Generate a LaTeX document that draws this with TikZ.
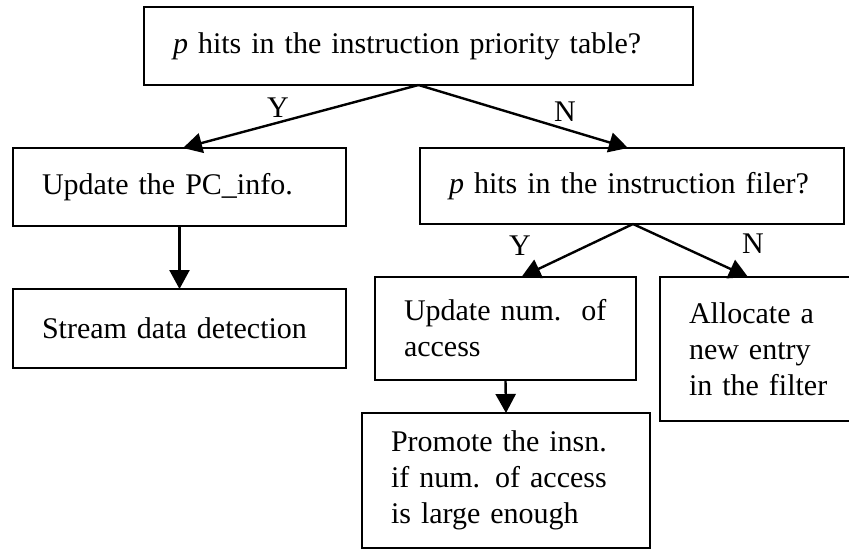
\documentclass[tikz,border=0pt]{standalone}
\usepackage{fontspec}
\setmainfont{Liberation Serif}
\usetikzlibrary{arrows.meta}
\begin{document}
\begin{tikzpicture}[x=1pt,y=-1pt,
  box/.style={draw, line width=2.6pt, outer sep=0pt, anchor=north west, align=left,
    inner xsep=29pt, inner ysep=0pt, font=\fontsize{30}{36}\selectfont},
  arr/.style={line width=2.4pt, -{Triangle[length=19pt,width=20pt]}},
  lbl/.style={font=\fontsize{30}{36}\selectfont, inner sep=0pt}]
\useasboundingbox (0,0) rectangle (849,550);
\node[box, text width=491pt, minimum height=78pt] (top) at (144,7)
  {\textit{p} hits in the instruction priority table?};
\node[box, text width=275pt, minimum height=78pt] (pc) at (13,148)
  {Update the PC\_info.};
\node[box, text width=275pt, minimum height=79pt] (stream) at (13,289)
  {Stream data detection};
\node[box, text width=366pt, minimum height=76pt] (filer) at (420,148)
  {\textit{p} hits in the instruction filer?};
\node[box, text width=203pt, minimum height=103pt] (upd) at (375,277)
  {Update num.\ \ of\\access};
\node[box, text width=142pt, minimum height=144pt] (alloc) at (660,277)
  {\mbox{Allocate a}\\\mbox{new entry}\\\mbox{in the filter}};
\node[box, text width=230pt, minimum height=135pt] (prom) at (362,413)
  {\mbox{Promote the insn.}\\\mbox{if num. of access}\\\mbox{is large enough}};
\draw[arr] (top.south) -- ([xshift=3.5pt]pc.north);
\draw[arr] (top.south) -- ([xshift=-4pt]filer.north);
\draw[arr] (pc.south) -- (stream.north);
\draw[arr] ([xshift=1pt]filer.south) -- ([xshift=16pt]upd.north);
\draw[arr] ([xshift=1pt]filer.south) -- ([xshift=-12pt]alloc.north);
\draw[arr] (upd.south) -- (prom.north);
\node[lbl] (y1) at (278,108) {Y};
\node[lbl] (n1) at (565,112) {N};
\node[lbl] (y2) at (520,246) {Y};
\node[lbl] (n2) at (753,244) {N};
\end{tikzpicture}
\end{document}
